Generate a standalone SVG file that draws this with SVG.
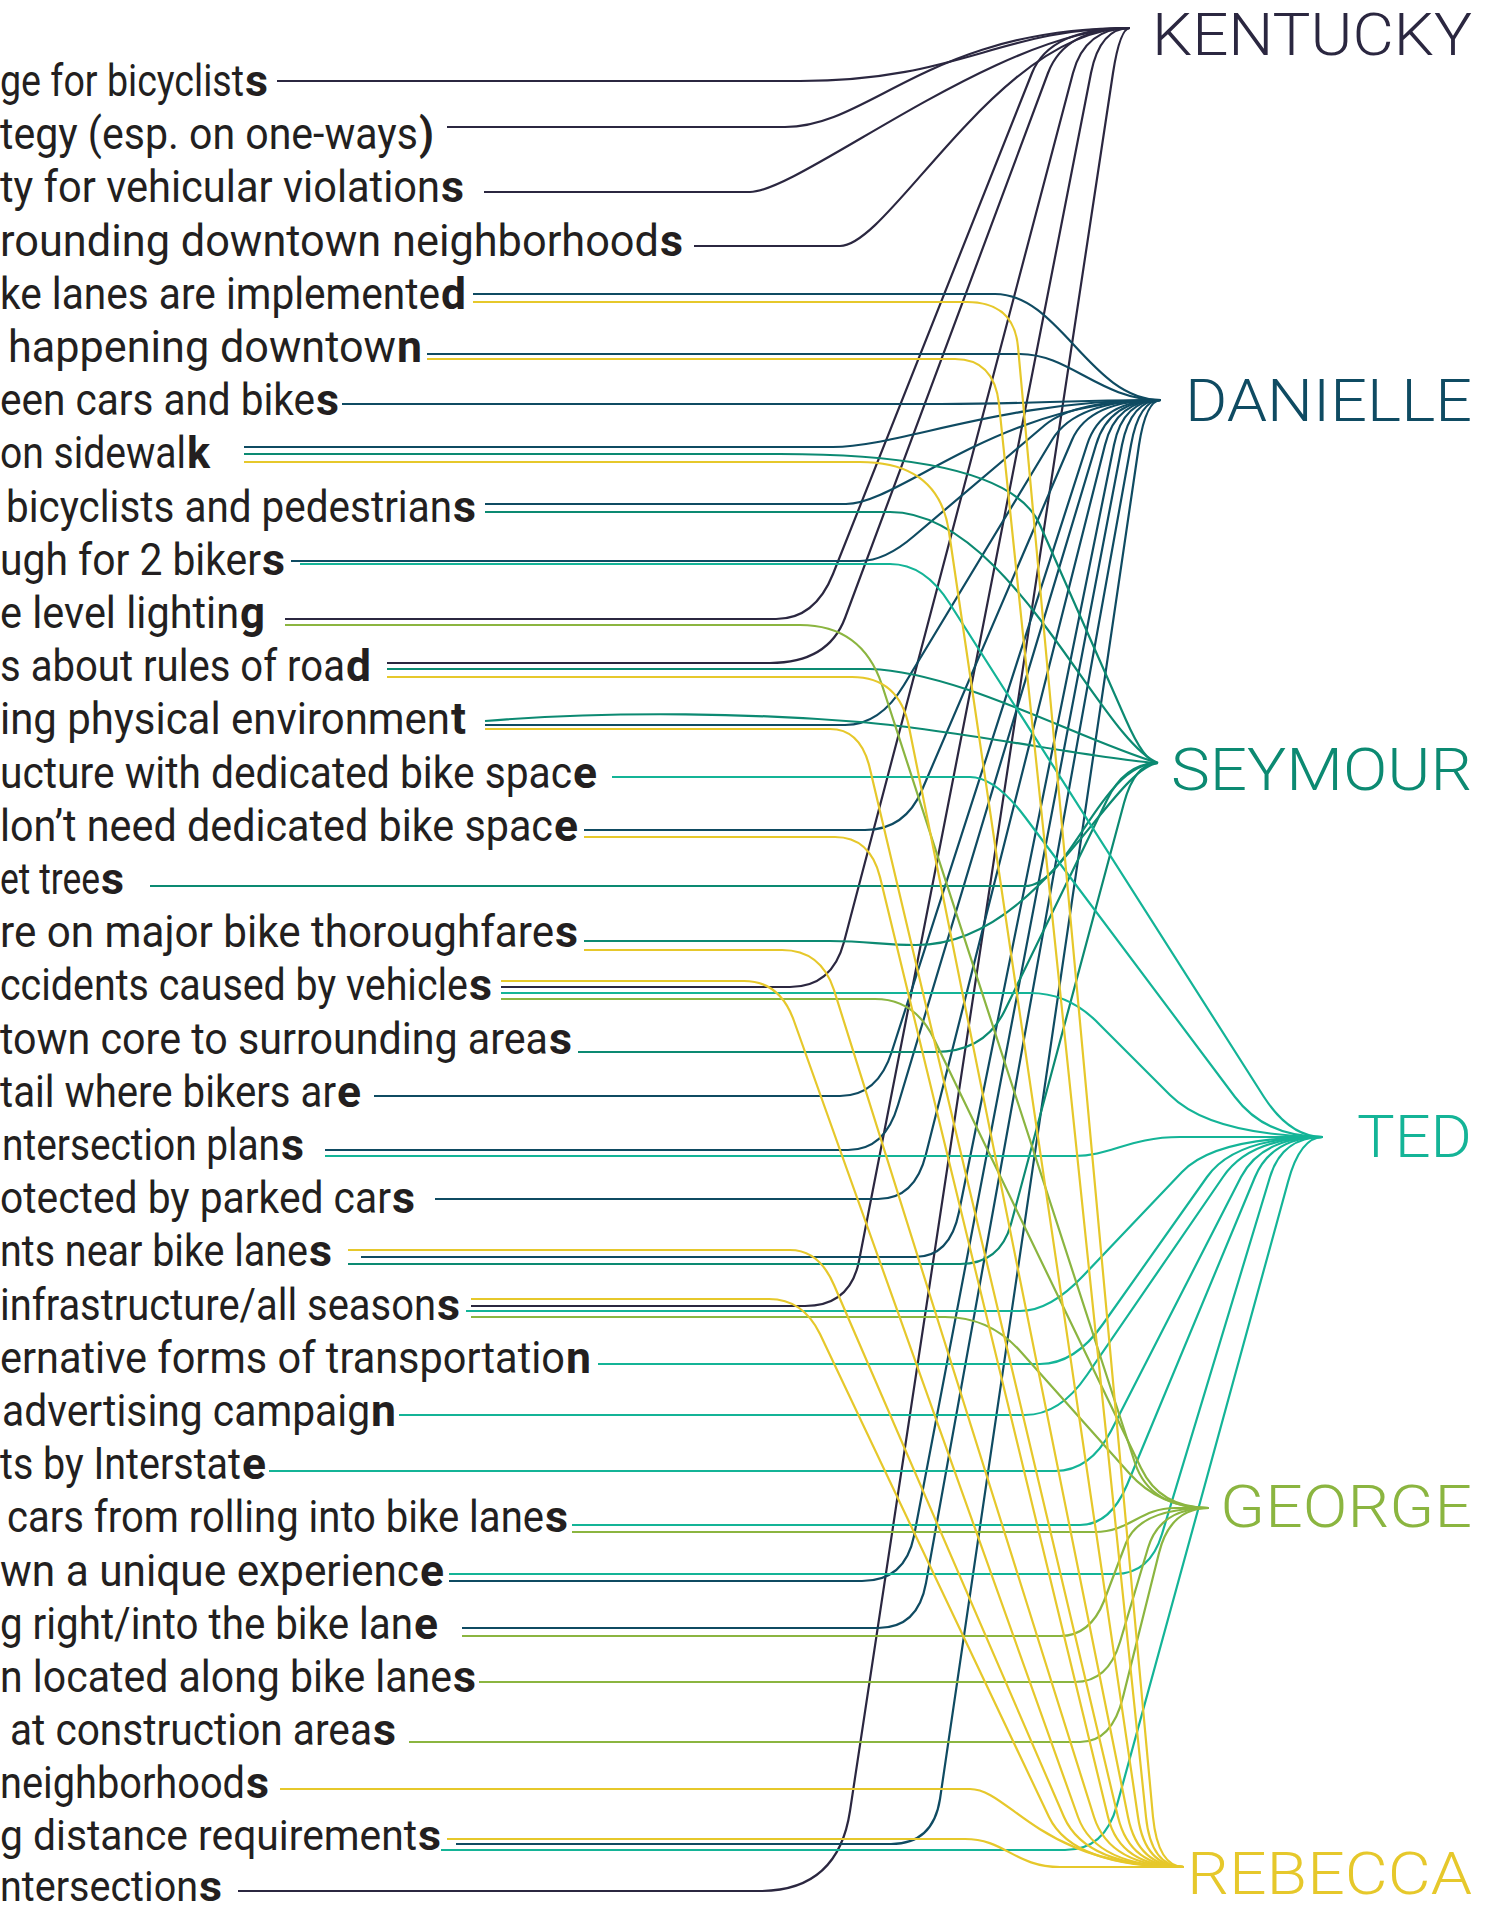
<svg xmlns="http://www.w3.org/2000/svg" width="1489" height="1912" viewBox="0 0 1489 1912">
<style>
.c{fill:none;stroke-width:2.2;stroke-linejoin:round}
.k{stroke:#2b2740}.d{stroke:#0f4b62}.s{stroke:#0c8a72}.t{stroke:#14b497}.g{stroke:#8bb540}.r{stroke:#e6c82b}
.lbl{font-family:Roboto,"Liberation Sans",sans-serif;font-size:45px;fill:#231f20}
.b{font-family:Roboto,"Liberation Sans",sans-serif;font-size:45px;font-weight:bold;fill:#231f20}
.sm{font-size:43px}
.nm{font-family:Roboto,"Liberation Sans",sans-serif;font-weight:300;font-size:60px}
</style>
<rect width="1489" height="1912" fill="#ffffff"/>
<g id="connectors">
<g class="c k">
<path d="M277 81H800C960 81 1000 28 1130 28"/>
<path d="M447 127H785C870 127 930 28 1130 28"/>
<path d="M484 192H750C800 192 1000 28 1130 28"/>
<path d="M694 246H840C890 246 1000 28 1130 28"/>
<path d="M285 619H776Q815 619 833 574L1032 73Q1050 28 1130 28"/>
<path d="M387 663H770Q828 663 845 618L1048 73Q1065 28 1130 28"/>
<path d="M501 987H790Q832 987 844 942L1073 73Q1085 28 1130 28"/>
<path d="M471 1306H805Q850 1306 859 1261L1091 73Q1100 28 1130 28"/>
<path d="M238 1891H760Q838 1891 850 1811L1113 73Q1120 28 1130 28"/>
</g>
<g class="c d">
<path d="M473 294H995C1060 294 1090 400 1161 400"/>
<path d="M427 354H1020C1070 354 1100 400 1161 400"/>
<path d="M342 404H941C1040 404 1060 400 1161 400"/>
<path d="M244 447H833C900 447 1000 400 1161 400"/>
<path d="M485 504H846C900 504 1000 400 1161 400"/>
<path d="M291 561H860Q885 561 914 536L1045 425Q1075 400 1161 400"/>
<path d="M485 725H845Q880 725 904 685L1052 440Q1076 400 1161 400"/>
<path d="M584 830H865Q905 830 922 790L1072 440Q1089 400 1161 400"/>
<path d="M374 1096H840Q878 1096 892 1051L1087 445Q1101 400 1161 400"/>
<path d="M325 1150H848Q885 1150 898 1105L1096 445Q1109 400 1161 400"/>
<path d="M435 1199H878Q915 1199 926 1154L1105 445Q1116 400 1161 400"/>
<path d="M361 1257H915Q950 1257 959 1212L1114 445Q1123 400 1161 400"/>
<path d="M449 1581H862Q905 1581 914 1536L1122 445Q1131 400 1161 400"/>
<path d="M462 1628H878Q918 1628 926 1583L1131 445Q1139 400 1161 400"/>
<path d="M456 1844H891Q933 1844 940 1799L1139 445Q1146 400 1161 400"/>
</g>
<g class="c s">
<path d="M244 454H780Q1009 454 1040 525L1126 720Q1145 763 1158 763"/>
<path d="M485 512H890C1010 512 1100 740 1158 763"/>
<path d="M387 669H870C960 672 1080 740 1158 763"/>
<path d="M485 721C620 710 760 714 860 722C960 730 1100 760 1158 763"/>
<path d="M150 886H1025C1070 886 1100 763 1158 763"/>
<path d="M584 941H830C870 941 880 945 916 945C1040 945 1110 770 1158 763"/>
<path d="M578 1052H935Q985 1052 1005 1010L1107 800Q1125 763 1158 763"/>
<path d="M348 1264H960Q1000 1264 1011 1224L1124 803Q1135 763 1158 763"/>
</g>
<g class="c t">
<path d="M300 564H890Q925 564 950 604L1264 1097Q1290 1137 1323 1137"/>
<path d="M612 777H970Q995 777 1025 817L1235 1097Q1265 1137 1323 1137"/>
<path d="M501 993H1030Q1070 993 1100 1025L1170 1095Q1210 1135 1323 1137"/>
<path d="M325 1156H1075C1110 1156 1130 1137 1180 1137L1323 1137"/>
<path d="M466 1311H1020Q1050 1311 1083 1276L1182 1172Q1215 1137 1323 1137"/>
<path d="M598 1364H1040Q1075 1364 1103 1324L1207 1177Q1235 1137 1323 1137"/>
<path d="M399 1415H1025Q1060 1415 1087 1375L1223 1177Q1250 1137 1323 1137"/>
<path d="M269 1471H1055Q1090 1471 1111 1431L1241 1177Q1262 1137 1323 1137"/>
<path d="M572 1525H1080Q1110 1525 1127 1485L1255 1177Q1272 1137 1323 1137"/>
<path d="M449 1574H1115Q1150 1574 1162 1534L1270 1177Q1282 1137 1323 1137"/>
<path d="M441 1850H1065Q1105 1850 1117 1805L1288 1182Q1300 1137 1323 1137"/>
</g>
<g class="c g">
<path d="M285 625H800Q862 625 882 685L1135 1463Q1150 1508 1209 1508"/>
<path d="M501 999H875Q915 999 934 1039L1141 1468Q1160 1508 1209 1508"/>
<path d="M471 1317H945Q990 1317 1021 1352L1129 1473Q1160 1508 1209 1508"/>
<path d="M572 1532H1095C1130 1532 1140 1508 1175 1508L1209 1508"/>
<path d="M462 1636H1060Q1090 1636 1104 1601L1126 1543Q1140 1508 1209 1508"/>
<path d="M479 1682H1075Q1108 1682 1120 1642L1148 1548Q1160 1508 1209 1508"/>
<path d="M409 1742H1080Q1112 1742 1123 1697L1159 1553Q1170 1508 1209 1508"/>
</g>
<g class="c r">
<path d="M473 302H967Q1014 302 1018 347L1153 1817Q1158 1867 1184 1867"/>
<path d="M427 359H955Q994 359 999 404L1146 1817Q1151 1867 1184 1867"/>
<path d="M244 462H860Q939 462 949 532L1138 1817Q1145 1867 1184 1867"/>
<path d="M387 677H852Q899 677 909 727L1128 1817Q1138 1867 1184 1867"/>
<path d="M485 729H830Q861 729 870 769L1118 1817Q1130 1867 1184 1867"/>
<path d="M584 837H835Q870 837 880 877L1108 1817Q1120 1867 1184 1867"/>
<path d="M584 950H782Q821 950 834 990L1094 1817Q1110 1867 1184 1867"/>
<path d="M501 981H744Q780 981 794 1021L1078 1817Q1096 1867 1184 1867"/>
<path d="M348 1250H790Q819 1250 834 1285L1064 1817Q1086 1867 1184 1867"/>
<path d="M471 1299H769Q803 1299 820 1334L1049 1817Q1073 1867 1184 1867"/>
<path d="M280 1789H970C1010 1789 1040 1867 1184 1867"/>
<path d="M447 1839H965C1005 1839 1015 1867 1060 1867L1184 1867"/>
</g>
</g>
<g id="targets">
<g id="n-kentucky"><text class="nm" x="1152" y="55" textLength="320" lengthAdjust="spacingAndGlyphs" fill="#2b2740">KENTUCKY</text></g>
<g id="n-danielle"><text class="nm" x="1185" y="421" textLength="287" lengthAdjust="spacingAndGlyphs" fill="#0f4b62">DANIELLE</text></g>
<g id="n-seymour"><text class="nm" x="1171" y="790" textLength="301" lengthAdjust="spacingAndGlyphs" fill="#0c8a72">SEYMOUR</text></g>
<g id="n-ted"><text class="nm" x="1357" y="1157" textLength="115" lengthAdjust="spacingAndGlyphs" fill="#14b497">TED</text></g>
<g id="n-george"><text class="nm" x="1220" y="1527" textLength="252" lengthAdjust="spacingAndGlyphs" fill="#8bb540">GEORGE</text></g>
<g id="n-rebecca"><text class="nm" x="1187" y="1894" textLength="285" lengthAdjust="spacingAndGlyphs" fill="#e6c82b">REBECCA</text></g>
</g>
<g id="labels">
<g id="l01" transform="scale(0.75 1)"><text class="lbl" x="0" y="96" textLength="325.3" lengthAdjust="spacingAndGlyphs">ge for bicyclist</text><text class="b" x="326.7" y="96" textLength="30.7" lengthAdjust="spacingAndGlyphs">s</text></g>
<g id="l02" transform="scale(0.75 1)"><text class="lbl" x="0" y="149" textLength="557.3" lengthAdjust="spacingAndGlyphs">tegy (esp. on one-ways</text><text class="b" x="558.7" y="149" textLength="20" lengthAdjust="spacingAndGlyphs">)</text></g>
<g id="l03" transform="scale(0.75 1)"><text class="lbl" x="0" y="202" textLength="586.7" lengthAdjust="spacingAndGlyphs">ty for vehicular violation</text><text class="b" x="588" y="202" textLength="30.7" lengthAdjust="spacingAndGlyphs">s</text></g>
<g id="l04" transform="scale(0.75 1)"><text class="lbl" x="0" y="256" textLength="878.7" lengthAdjust="spacingAndGlyphs">rounding downtown neighborhood</text><text class="b" x="880" y="256" textLength="30.7" lengthAdjust="spacingAndGlyphs">s</text></g>
<g id="l05" transform="scale(0.75 1)"><text class="lbl" x="0" y="309" textLength="586.7" lengthAdjust="spacingAndGlyphs">ke lanes are implemente</text><text class="b" x="588" y="309" textLength="33.3" lengthAdjust="spacingAndGlyphs">d</text></g>
<g id="l06" transform="scale(0.75 1)"><text class="lbl" x="10.7" y="362" textLength="517.3" lengthAdjust="spacingAndGlyphs">happening downtow</text><text class="b" x="529.3" y="362" textLength="33.3" lengthAdjust="spacingAndGlyphs">n</text></g>
<g id="l07" transform="scale(0.75 1)"><text class="lbl" x="0" y="415" textLength="420" lengthAdjust="spacingAndGlyphs">een cars and bike</text><text class="b" x="421.3" y="415" textLength="30.7" lengthAdjust="spacingAndGlyphs">s</text></g>
<g id="l08" transform="scale(0.75 1)"><text class="lbl" x="0" y="468" textLength="248" lengthAdjust="spacingAndGlyphs">on sidewal</text><text class="b" x="249.3" y="468" textLength="30.7" lengthAdjust="spacingAndGlyphs">k</text></g>
<g id="l09" transform="scale(0.75 1)"><text class="lbl" x="8" y="522" textLength="594.7" lengthAdjust="spacingAndGlyphs">bicyclists and pedestrian</text><text class="b" x="604" y="522" textLength="30.7" lengthAdjust="spacingAndGlyphs">s</text></g>
<g id="l10" transform="scale(0.75 1)"><text class="lbl" x="0" y="575" textLength="348" lengthAdjust="spacingAndGlyphs">ugh for 2 biker</text><text class="b" x="349.3" y="575" textLength="30.7" lengthAdjust="spacingAndGlyphs">s</text></g>
<g id="l11" transform="scale(0.75 1)"><text class="lbl" x="0" y="628" textLength="318.7" lengthAdjust="spacingAndGlyphs">e level lightin</text><text class="b" x="320" y="628" textLength="33.3" lengthAdjust="spacingAndGlyphs">g</text></g>
<g id="l12" transform="scale(0.75 1)"><text class="lbl" x="0" y="681" textLength="460" lengthAdjust="spacingAndGlyphs">s about rules of roa</text><text class="b" x="461.3" y="681" textLength="33.3" lengthAdjust="spacingAndGlyphs">d</text></g>
<g id="l13" transform="scale(0.75 1)"><text class="lbl" x="0" y="734" textLength="600" lengthAdjust="spacingAndGlyphs">ing physical environmen</text><text class="b" x="601.3" y="734" textLength="20" lengthAdjust="spacingAndGlyphs">t</text></g>
<g id="l14" transform="scale(0.75 1)"><text class="lbl" x="0" y="788" textLength="762.7" lengthAdjust="spacingAndGlyphs">ucture with dedicated bike spac</text><text class="b" x="764" y="788" textLength="32" lengthAdjust="spacingAndGlyphs">e</text></g>
<g id="l15" transform="scale(0.75 1)"><text class="lbl" x="0" y="841" textLength="737.3" lengthAdjust="spacingAndGlyphs">lon’t need dedicated bike spac</text><text class="b" x="738.7" y="841" textLength="32" lengthAdjust="spacingAndGlyphs">e</text></g>
<g id="l16" transform="scale(0.75 1)"><text class="lbl" x="0" y="894" textLength="133.3" lengthAdjust="spacingAndGlyphs">et tree</text><text class="b" x="134.7" y="894" textLength="30.7" lengthAdjust="spacingAndGlyphs">s</text></g>
<g id="l17" transform="scale(0.75 1)"><text class="lbl" x="0" y="947" textLength="738.7" lengthAdjust="spacingAndGlyphs">re on major bike thoroughfare</text><text class="b" x="740" y="947" textLength="30.7" lengthAdjust="spacingAndGlyphs">s</text></g>
<g id="l18" transform="scale(0.75 1)"><text class="lbl" x="0" y="1000" textLength="624" lengthAdjust="spacingAndGlyphs">ccidents caused by vehicle</text><text class="b" x="625.3" y="1000" textLength="30.7" lengthAdjust="spacingAndGlyphs">s</text></g>
<g id="l19" transform="scale(0.75 1)"><text class="lbl" x="0" y="1054" textLength="730.7" lengthAdjust="spacingAndGlyphs">town core to surrounding area</text><text class="b" x="732" y="1054" textLength="30.7" lengthAdjust="spacingAndGlyphs">s</text></g>
<g id="l20" transform="scale(0.75 1)"><text class="lbl" x="0" y="1107" textLength="448" lengthAdjust="spacingAndGlyphs">tail where bikers ar</text><text class="b" x="449.3" y="1107" textLength="32" lengthAdjust="spacingAndGlyphs">e</text></g>
<g id="l21" transform="scale(0.75 1)"><text class="lbl" x="2.7" y="1160" textLength="370.7" lengthAdjust="spacingAndGlyphs">ntersection plan</text><text class="b" x="374.7" y="1160" textLength="30.7" lengthAdjust="spacingAndGlyphs">s</text></g>
<g id="l22" transform="scale(0.75 1)"><text class="lbl" x="0" y="1213" textLength="521.3" lengthAdjust="spacingAndGlyphs">otected by parked car</text><text class="b" x="522.7" y="1213" textLength="30.7" lengthAdjust="spacingAndGlyphs">s</text></g>
<g id="l23" transform="scale(0.75 1)"><text class="lbl" x="0" y="1266" textLength="410.7" lengthAdjust="spacingAndGlyphs">nts near bike lane</text><text class="b" x="412" y="1266" textLength="30.7" lengthAdjust="spacingAndGlyphs">s</text></g>
<g id="l24" transform="scale(0.75 1)"><text class="lbl" x="0" y="1320" textLength="581.3" lengthAdjust="spacingAndGlyphs">infrastructure/all season</text><text class="b" x="582.7" y="1320" textLength="30.7" lengthAdjust="spacingAndGlyphs">s</text></g>
<g id="l25" transform="scale(0.75 1)"><text class="lbl" x="0" y="1373" textLength="753.3" lengthAdjust="spacingAndGlyphs">ernative forms of transportatio</text><text class="b" x="754.7" y="1373" textLength="33.3" lengthAdjust="spacingAndGlyphs">n</text></g>
<g id="l26" transform="scale(0.75 1)"><text class="lbl" x="2.7" y="1426" textLength="490.7" lengthAdjust="spacingAndGlyphs">advertising campaig</text><text class="b" x="494.7" y="1426" textLength="33.3" lengthAdjust="spacingAndGlyphs">n</text></g>
<g id="l27" transform="scale(0.75 1)"><text class="lbl" x="0" y="1479" textLength="321.3" lengthAdjust="spacingAndGlyphs">ts by Interstat</text><text class="b" x="322.7" y="1479" textLength="32" lengthAdjust="spacingAndGlyphs">e</text></g>
<g id="l28" transform="scale(0.75 1)"><text class="lbl" x="9.3" y="1532" textLength="716" lengthAdjust="spacingAndGlyphs">cars from rolling into bike lane</text><text class="b" x="726.7" y="1532" textLength="30.7" lengthAdjust="spacingAndGlyphs">s</text></g>
<g id="l29" transform="scale(0.75 1)"><text class="lbl" x="0" y="1586" textLength="558.7" lengthAdjust="spacingAndGlyphs">wn a unique experienc</text><text class="b" x="560" y="1586" textLength="32" lengthAdjust="spacingAndGlyphs">e</text></g>
<g id="l30" transform="scale(0.75 1)"><text class="lbl" x="0" y="1639" textLength="550.7" lengthAdjust="spacingAndGlyphs">g right/into the bike lan</text><text class="b" x="552" y="1639" textLength="32" lengthAdjust="spacingAndGlyphs">e</text></g>
<g id="l31" transform="scale(0.75 1)"><text class="lbl" x="0" y="1692" textLength="602.7" lengthAdjust="spacingAndGlyphs">n located along bike lane</text><text class="b" x="604" y="1692" textLength="30.7" lengthAdjust="spacingAndGlyphs">s</text></g>
<g id="l32" transform="scale(0.75 1)"><text class="lbl" x="13.3" y="1745" textLength="482.7" lengthAdjust="spacingAndGlyphs">at construction area</text><text class="b" x="497.3" y="1745" textLength="30.7" lengthAdjust="spacingAndGlyphs">s</text></g>
<g id="l33" transform="scale(0.75 1)"><text class="lbl" x="0" y="1798" textLength="326.7" lengthAdjust="spacingAndGlyphs">neighborhood</text><text class="b" x="328" y="1798" textLength="30.7" lengthAdjust="spacingAndGlyphs">s</text></g>
<g id="l34" transform="scale(0.75 1)"><text class="lbl sm" x="0" y="1850" textLength="556" lengthAdjust="spacingAndGlyphs">g distance requirement</text><text class="b sm" x="557.3" y="1850" textLength="30.7" lengthAdjust="spacingAndGlyphs">s</text></g>
<g id="l35" transform="scale(0.75 1)"><text class="lbl sm" x="0" y="1901" textLength="264" lengthAdjust="spacingAndGlyphs">ntersection</text><text class="b sm" x="265.3" y="1901" textLength="30.7" lengthAdjust="spacingAndGlyphs">s</text></g>
</g>
</svg>
